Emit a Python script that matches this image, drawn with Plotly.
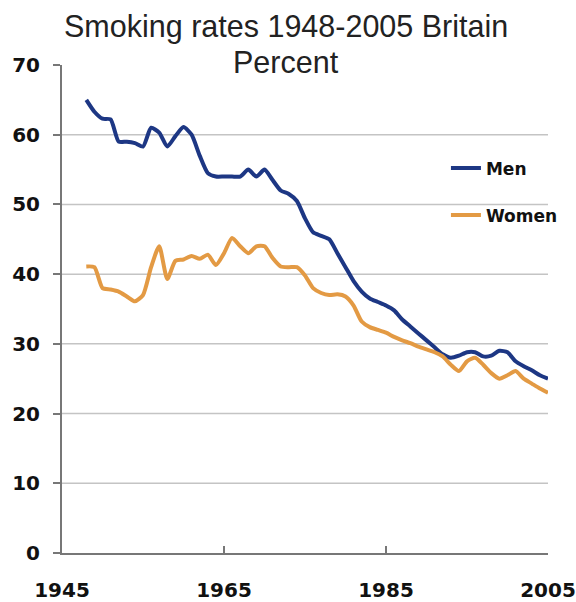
import plotly.graph_objects as go

years = list(range(1948, 2006))
men = [65, 63.3, 62.3, 62.2, 59, 59, 58.8, 58.3, 61, 60.3,
       58.3, 59.8, 61.1, 60, 57, 54.5, 54, 54, 54, 54,
       55, 54, 55, 53.5, 52, 51.5, 50.5, 48, 46, 45.5,
       45, 43, 41, 39, 37.5, 36.5, 36, 35.5, 34.8, 33.5,
       32.5, 31.5, 30.5, 29.5, 28.5, 28, 28.3, 28.8, 28.8, 28.2,
       28.3, 29, 28.8, 27.5, 26.8, 26.2, 25.5, 25]
women = [41.1, 41, 38, 37.8, 37.5, 36.8, 36.1, 37, 41, 44,
         39.3, 41.9, 42.1, 42.6, 42.2, 42.8, 41.3, 43, 45.2, 44,
         43, 44, 44, 42.3, 41.1, 41, 41, 39.8, 38, 37.3,
         37, 37.1, 36.8, 35.5, 33.2, 32.4, 32, 31.6, 31, 30.5,
         30.1, 29.6, 29.2, 28.8, 28.2, 27, 26.1, 27.5, 28, 27,
         25.8, 25, 25.5, 26.1, 25, 24.3, 23.6, 23]
x_ticks = [1945, 1965, 1985, 2005]
y_ticks = [0, 10, 20, 30, 40, 50, 60, 70]
grid_vals = [10, 20, 30, 40, 50, 60]
title_lines = ["Smoking rates 1948-2005 Britain", "Percent"]

MEN_COLOR = "#1d3784"
WOMEN_COLOR = "#e39a44"

fig = go.Figure()
fig.add_trace(go.Scatter(x=years, y=men, mode="lines", name="Men", legendgroup="m",
                         line=dict(color=MEN_COLOR, width=4, shape="spline", smoothing=0.6)))
fig.add_trace(go.Scatter(x=years, y=women, mode="lines", name="Women", legendgroup="w",
                         line=dict(color=WOMEN_COLOR, width=4, shape="spline", smoothing=0.6)))

for g in grid_vals:
    fig.add_shape(type="line", xref="x", yref="y", x0=x_ticks[0], x1=x_ticks[-1], y0=g, y1=g,
                  line=dict(color="#c4c4c4", width=1.5), layer="below")

title_font = dict(family="Liberation Sans", size=30.5, color="#222222")
fig.add_annotation(text=title_lines[0], xref="paper", yref="paper", x=0.46, y=1.079,
                   xanchor="center", yanchor="middle", showarrow=False, font=title_font,
                   borderpad=0)
fig.add_annotation(text=title_lines[1], xref="paper", yref="paper", x=0.46, y=1.007,
                   xanchor="center", yanchor="middle", showarrow=False, font=title_font,
                   borderpad=0)

tick_font = dict(family="DejaVu Sans", size=20, color="#111111", weight="bold")

fig.update_layout(
    width=576, height=602,
    margin=dict(l=62, r=28, t=65, b=49),
    paper_bgcolor="white", plot_bgcolor="white",
    showlegend=True,
    legend=dict(x=0.79, y=0.825, xanchor="left", yanchor="top",
                font=dict(family="DejaVu Sans", size=17, color="#111111", weight="bold"),
                tracegroupgap=22, bgcolor="rgba(0,0,0,0)", itemwidth=30),
    xaxis=dict(range=[1945, 2005], tickvals=x_ticks, ticks="inside", ticklen=7,
               tickcolor="#777777", tickwidth=1.5, showgrid=False, zeroline=False,
               showline=True, linecolor="#777777", linewidth=2, automargin=False,
               tickfont=tick_font, ticklabelstandoff=18),
    yaxis=dict(range=[0, 70], tickvals=y_ticks, ticks="outside", ticklen=7,
               tickcolor="#777777", tickwidth=1.5, showgrid=False, zeroline=False,
               showline=True, linecolor="#777777", linewidth=2, automargin=False,
               tickfont=tick_font, ticklabelstandoff=9),
)

fig.write_html("out.html")
